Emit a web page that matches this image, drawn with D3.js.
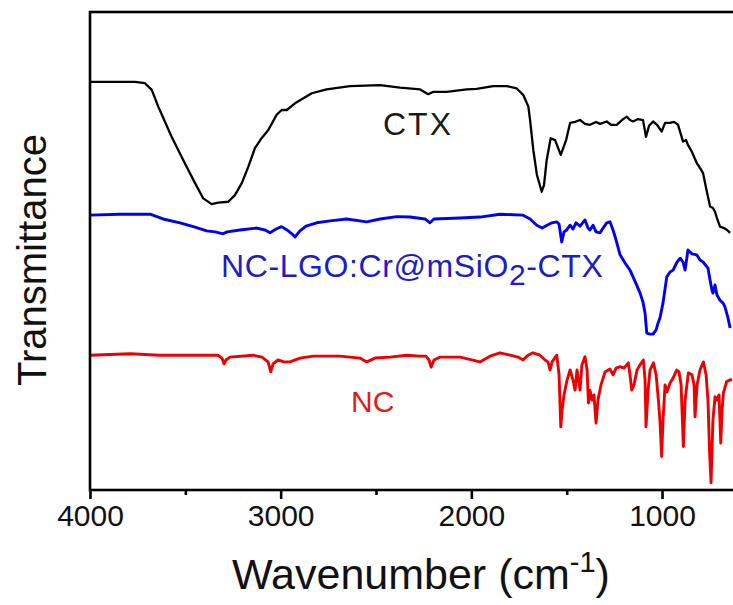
<!DOCTYPE html>
<html>
<head>
<meta charset="utf-8">
<script src="https://cdn.jsdelivr.net/npm/d3@7"></script>
<style>
  html, body { margin: 0; padding: 0; background: #fff; }
  svg { display: block; }
  text { font-family: "Liberation Sans", Arial, sans-serif; }
</style>
</head>
<body>
<svg id="chart" width="733" height="605"></svg>
<script>
// FTIR spectra (wavenumber in cm^-1, transmittance in offset arbitrary units)
const ctxWavenumber = [4000,3764,3712,3676,3642,3572,3502,3449,3406,3362,3327,3275,3240,3204,3170,3135,3100,3065,3021,2995,2968,2925,2837,2759,2636,2479,2374,2269,2226,2199,2129,2024,1972,1885,1814,1762,1727,1701,1692,1675,1656,1631,1619,1605,1584,1561,1531,1503,1482,1456,1430,1404,1378,1346,1325,1290,1267,1238,1210,1185,1168,1152,1126,1100,1084,1068,1047,1026,1002,984,958,937,916,890,874,864,843,818,801,785,769,748,733,722,712,696,675,659,643];
const ctxTransmittance = [85.4,85.4,85.1,83.7,80.2,73.9,68.3,64.2,61.0,59.8,60.1,60.3,61.7,64.2,67.6,71.5,73.6,75.3,78.5,79.5,79.5,80.9,83.0,83.8,84.5,84.7,84.2,83.8,82.8,83.3,83.3,83.8,83.9,84.5,84.5,84.0,82.6,80.2,77.4,71.1,65.9,62.4,63.8,69.0,73.6,73.2,70.1,73.2,76.8,77.0,77.4,76.6,76.4,77.0,76.6,77.1,76.4,76.4,77.4,78.1,77.4,77.1,77.6,77.4,73.9,76.2,77.1,76.4,75.0,76.8,76.8,77.0,76.4,72.9,73.2,72.2,70.7,68.4,67.4,66.3,63.2,59.3,59.0,58.2,56.9,55.1,54.8,54.4,53.8];

const ncCtxWavenumber = [4000,3843,3685,3617,3528,3449,3388,3344,3302,3281,3213,3126,3082,3056,3024,2995,2967,2941,2925,2899,2867,2811,2741,2654,2549,2479,2391,2322,2243,2217,2196,2059,1955,1850,1729,1692,1657,1629,1603,1577,1552,1540,1526,1514,1500,1482,1467,1451,1430,1404,1388,1378,1362,1346,1325,1309,1290,1273,1257,1241,1220,1194,1168,1142,1115,1100,1089,1080,1063,1047,1031,1021,1011,995,975,958,942,921,905,890,879,864,843,818,801,785,759,748,738,733,722,712,696,680,670,654,643];
const ncCtxTransmittance = [57.5,57.7,57.7,56.7,55.9,55.0,54.2,54.0,53.6,54.0,54.4,54.8,54.4,53.8,54.6,55.1,54.4,53.6,52.9,54.2,55.2,55.9,56.3,56.7,56.1,56.7,57.2,57.1,56.7,55.9,56.7,56.9,57.1,57.7,57.5,56.7,55.4,54.8,55.4,55.9,56.1,55.6,51.9,54.0,54.4,55.4,54.6,55.9,55.2,56.5,54.8,54.4,55.4,54.0,53.8,54.8,55.9,56.1,54.4,52.3,49.2,47.5,46.0,43.7,41.2,39.3,37.0,32.8,32.6,32.6,33.5,34.9,36.0,39.1,44.6,45.6,46.0,47.7,48.5,47.7,46.0,50.2,49.4,49.2,48.1,47.7,46.4,43.9,41.8,41.2,42.9,40.8,39.7,39.1,38.3,36.0,33.9];

const ncWavenumber = [4000,3790,3633,3329,3308,3297,3287,3266,3145,3098,3066,3052,3040,3014,2983,2951,2899,2830,2689,2584,2549,2505,2427,2339,2269,2238,2222,2211,2196,2164,2059,1955,1902,1850,1797,1755,1729,1703,1677,1640,1614,1598,1587,1577,1552,1540,1531,1524,1514,1498,1482,1467,1456,1446,1430,1420,1404,1393,1386,1378,1367,1357,1346,1336,1320,1299,1273,1257,1241,1220,1199,1177,1168,1159,1147,1131,1115,1098,1089,1084,1073,1063,1045,1031,1019,1011,1002,995,984,974,958,942,923,911,900,888,879,862,843,832,827,816,801,783,769,759,751,743,733,722,712,701,692,685,678,661,634];
const ncTransmittance = [28.2,28.5,28.2,28.2,27.6,26.4,27.2,27.8,28.2,27.8,26.8,24.7,26.4,27.2,26.8,26.8,27.6,28.0,28.0,27.6,26.8,27.6,27.8,28.2,28.0,28.0,27.2,25.7,27.2,27.8,27.8,26.8,28.0,28.7,28.2,27.8,27.2,28.2,28.7,28.2,27.2,26.8,25.1,26.8,28.2,24.1,13.2,16.7,19.9,23.0,25.1,23.0,20.9,25.1,20.9,26.2,27.9,25.1,18.2,20.9,18.8,19.9,14.0,18.8,22.0,24.7,25.3,24.1,25.5,25.8,25.5,26.6,24.1,20.9,22.0,25.1,26.2,27.2,23.0,13.2,20.9,25.1,26.6,24.1,18.8,14.6,7.0,14.6,22.0,20.5,22.4,23.4,25.1,24.7,22.0,9.1,18.8,24.5,24.1,22.0,15.3,22.0,25.1,26.8,24.1,18.8,8.4,1.5,14.6,19.5,18.8,19.9,9.8,16.7,20.3,22.7,23.2];

const majorTicks = [4000, 3000, 2000, 1000];
const minorTicks = [3500, 2500, 1500];

const seriesList = [
  { name: "CTX", wn: ctxWavenumber, t: ctxTransmittance, color: "#000000", width: 2.3 },
  { name: "NC-LGO:Cr@mSiO2-CTX", wn: ncCtxWavenumber, t: ncCtxTransmittance, color: "#0000ee", width: 2.9 },
  { name: "NC", wn: ncWavenumber, t: ncTransmittance, color: "#ee0000", width: 2.9 }
];

const svg = d3.select("#chart");
const plotLeft = 90, plotTop = 12, plotBottom = 490;

// reversed wavenumber axis; the frame runs past the right edge of the page
const x = d3.scaleLinear().domain([4000, 600]).range([plotLeft, 738.3]);
const y = d3.scaleLinear().domain([0, 100]).range([plotBottom, plotTop]);

const line = d3.line().x(d => x(d[0])).y(d => y(d[1]));

seriesList.forEach(s => {
  svg.append("path")
    .datum(s.wn.map((w, i) => [w, s.t[i]]))
    .attr("fill", "none")
    .attr("stroke", s.color)
    .attr("stroke-width", s.width)
    .attr("stroke-linejoin", "round")
    .attr("d", line);
});

// frame
svg.append("rect")
  .attr("x", plotLeft).attr("y", plotTop)
  .attr("width", x.range()[1] - plotLeft).attr("height", plotBottom - plotTop)
  .attr("fill", "none").attr("stroke", "#000").attr("stroke-width", 2.6);

// bottom axis: labelled major ticks and short minor ticks
const majorAxis = d3.axisBottom(x).tickValues(majorTicks).tickSize(9).tickPadding(6).tickFormat(d3.format("d"));
const gMajor = svg.append("g").attr("transform", `translate(0,${plotBottom})`).call(majorAxis);
gMajor.select(".domain").remove();
gMajor.selectAll(".tick line").attr("stroke", "#000").attr("stroke-width", 2.6);
gMajor.selectAll(".tick text")
  .attr("font-size", 30).attr("fill", "#111")
  .style("font-family", '"Liberation Sans", Arial, sans-serif');

const minorAxis = d3.axisBottom(x).tickValues(minorTicks).tickSize(5).tickFormat("");
const gMinor = svg.append("g").attr("transform", `translate(0,${plotBottom})`).call(minorAxis);
gMinor.select(".domain").remove();
gMinor.selectAll(".tick line").attr("stroke", "#000").attr("stroke-width", 2.6);

// axis titles
const xt = svg.append("text")
  .attr("x", 421).attr("y", 589)
  .attr("text-anchor", "middle")
  .attr("font-size", 43).attr("fill", "#111");
xt.append("tspan").text("Wavenumber (cm");
xt.append("tspan").attr("font-size", 29).attr("dy", -17).text("-1");
xt.append("tspan").attr("dy", 17).text(")");

svg.append("text")
  .attr("transform", "translate(46,260) rotate(-90)")
  .attr("text-anchor", "middle")
  .attr("font-size", 40).attr("fill", "#111")
  .text("Transmittance");

// series labels
svg.append("text").attr("x", 383).attr("y", 135)
  .attr("font-size", 32).attr("letter-spacing", 2).attr("fill", "#1a1a1a").text("CTX");

const bl = svg.append("text").attr("x", 221).attr("y", 277)
  .attr("font-size", 32).attr("letter-spacing", 0.6).attr("fill", "#1c1cc8");
bl.append("tspan").text("NC-LGO:Cr@mSiO");
bl.append("tspan").attr("font-size", 30).attr("dy", 8).text("2");
bl.append("tspan").attr("dy", -8).text("-CTX");

svg.append("text").attr("x", 351).attr("y", 412)
  .attr("font-size", 30).attr("fill", "#dd1c1c").text("NC");
</script>
</body>
</html>
